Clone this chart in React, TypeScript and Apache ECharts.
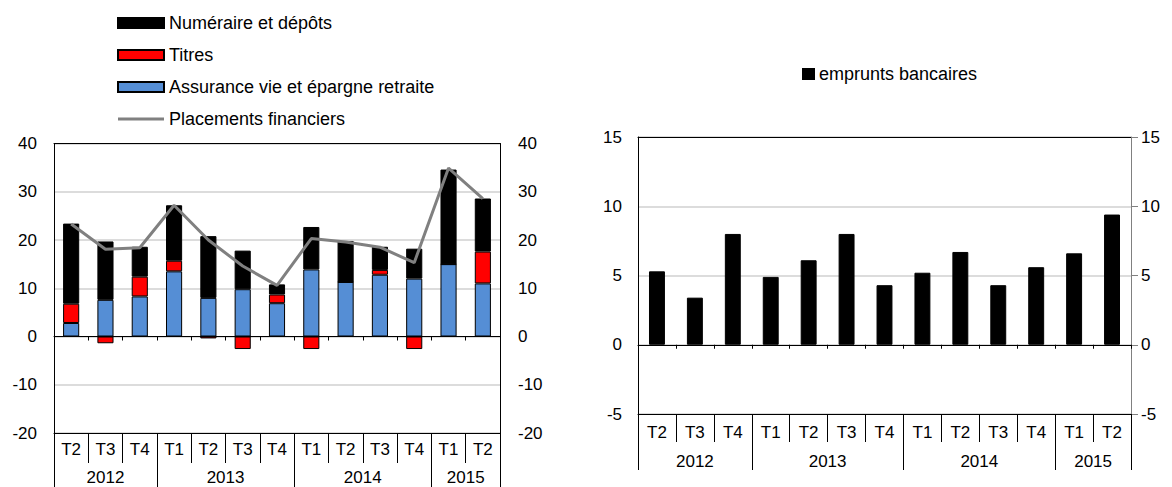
import React, { useEffect, useRef } from 'react';
import * as echarts from 'echarts';

// ---- data ----
const quarters = ['T2', 'T3', 'T4', 'T1', 'T2', 'T3', 'T4', 'T1', 'T2', 'T3', 'T4', 'T1', 'T2'];
const years = ['2012', '2013', '2014', '2015'];
const yearSpans = [3, 4, 4, 2];

const numeraire = [16.6, 12.1, 6.2, 11.5, 12.8, 8.0, 2.1, 8.8, 8.5, 4.8, 6.2, 19.6, 11.0];
const titres = [4.0, -1.4, 4.1, 2.2, -0.4, -2.6, 1.8, -2.6, 0, 1.0, -2.6, 0, 6.6];
const assurance = [2.8, 7.6, 8.3, 13.5, 8.0, 9.8, 6.9, 13.9, 11.3, 12.8, 12.0, 15.0, 11.0];
const placements = [23.3, 18.1, 18.4, 27.2, 20.0, 14.6, 10.6, 20.3, 19.6, 18.5, 15.3, 34.9, 28.6];
const emprunts = [5.3, 3.4, 8.0, 4.9, 6.1, 8.0, 4.3, 5.2, 6.7, 4.3, 5.6, 6.6, 9.4];

const leftScale = { min: -20, max: 40, interval: 10 };
const rightScale = { min: -5, max: 15, interval: 5 };

const FONT = 'Liberation Sans, Arial, sans-serif';
const AXIS_FS = 17;
const LEG_FS = 18;

function buildYearSlots() {
  const slots: string[] = new Array(quarters.length * 2 + 1).fill('');
  const centers = new Set<number>();
  const bounds = new Set<number>([0]);
  let s = 0;
  years.forEach((y, i) => {
    const n = yearSpans[i];
    slots[2 * s + n] = y;
    centers.add(2 * s + n);
    s += n;
    bounds.add(2 * s);
  });
  return { slots, centers, bounds };
}

function xAxesFor(gridIndex: number, qMargin: number, qTick: number, yMargin: number, yTick: number) {
  const { slots, centers, bounds } = buildYearSlots();
  const label = { color: '#000', fontSize: AXIS_FS, fontFamily: FONT };
  return [
    {
      // zero line, data axis
      type: 'category', gridIndex, data: quarters, position: 'bottom',
      axisLine: { show: true, onZero: true, lineStyle: { color: '#000', width: 1 } },
      axisTick: { show: true, interval: 0, length: 4, lineStyle: { color: '#000' } },
      axisLabel: { show: false },
    },
    {
      // quarter labels row
      type: 'category', gridIndex, data: quarters, position: 'bottom',
      axisLine: { show: true, onZero: false, lineStyle: { color: '#000', width: 1 } },
      axisTick: { show: true, interval: 0, length: qTick, lineStyle: { color: '#000' } },
      axisLabel: { ...label, interval: 0, margin: qMargin },
    },
    {
      // year labels row
      type: 'category', gridIndex, data: slots, position: 'bottom', boundaryGap: false,
      axisLine: { show: false, onZero: false },
      axisTick: {
        show: true, length: yTick, lineStyle: { color: '#000' },
        interval: (i: number) => bounds.has(i),
      },
      axisLabel: { ...label, margin: yMargin, interval: (i: number) => centers.has(i) },
    },
    {
      // top border
      type: 'category', gridIndex, data: quarters, position: 'top',
      axisLine: { show: true, onZero: false, lineStyle: { color: '#000', width: 1 } },
      axisTick: { show: false }, axisLabel: { show: false },
    },
  ];
}

export default function App() {
  const ref = useRef<HTMLDivElement>(null);
  useEffect(() => {
    document.body.style.margin = '0';
    if (!ref.current) return;
    const chart = echarts.init(ref.current, undefined, { renderer: 'svg' });
    const label = { color: '#000', fontSize: AXIS_FS, fontFamily: FONT };
    const split = { show: true, lineStyle: { color: '#d0d0d0', width: 1.5 } };
    const option = {
      animation: false,
      textStyle: { fontFamily: FONT },
      legend: [
        {
          orient: 'vertical', left: 117, top: 14, padding: 0, itemWidth: 46, itemHeight: 10, itemGap: 14,
          symbolKeepAspect: true,
          textStyle: { color: '#000', fontSize: LEG_FS, fontFamily: FONT, lineHeight: 18 },
          data: [
            { name: 'Numéraire et dépôts', icon: 'rect' },
            { name: 'Titres', icon: 'rect' },
            { name: 'Assurance vie et épargne retraite', icon: 'rect' },
            { name: 'Placements financiers', icon: 'path://M0,4H46V7H0Z' },
          ],
        },
        {
          left: 802, top: 65, padding: 0, itemWidth: 11, itemHeight: 10,
          textStyle: { color: '#000', fontSize: LEG_FS, fontFamily: FONT, lineHeight: 18 },
          data: [{ name: 'emprunts bancaires', icon: 'rect' }],
        },
      ],
      grid: [
        { left: 54, width: 446, top: 143.5, height: 289.5 },
        { left: 638, width: 493, top: 137, height: 277 },
      ],
      xAxis: [
        ...xAxesFor(0, 8, 30, 36, 60),
        ...xAxesFor(1, 10, 28, 39, 56),
      ],
      yAxis: [
        {
          type: 'value', gridIndex: 0, position: 'left', ...leftScale,
          axisLine: { show: true, lineStyle: { color: '#000' } }, axisTick: { show: false },
          axisLabel: { ...label, margin: 17 }, splitLine: split,
        },
        {
          type: 'value', gridIndex: 0, position: 'right', ...leftScale,
          axisLine: { show: true, lineStyle: { color: '#000' } }, axisTick: { show: false },
          axisLabel: { ...label, margin: 18 }, splitLine: { show: false },
        },
        {
          type: 'value', gridIndex: 1, position: 'left', ...rightScale,
          axisLine: { show: true, lineStyle: { color: '#000' } }, axisTick: { show: false },
          axisLabel: { ...label, margin: 16 }, splitLine: split,
        },
        {
          type: 'value', gridIndex: 1, position: 'right', ...rightScale,
          axisLine: { show: true, lineStyle: { color: '#808080' } },
          axisTick: { show: true, length: 7, lineStyle: { color: '#808080' } },
          axisLabel: { ...label, margin: 10 }, splitLine: { show: false },
        },
      ],
      series: [
        {
          name: 'Assurance vie et épargne retraite', type: 'bar', stack: 'a', xAxisIndex: 0, yAxisIndex: 0,
          data: assurance, barWidth: '47%',
          itemStyle: { color: '#558ed5', borderColor: '#000', borderWidth: 1 },
        },
        {
          name: 'Titres', type: 'bar', stack: 'a', xAxisIndex: 0, yAxisIndex: 0,
          data: titres, barWidth: '47%',
          itemStyle: { color: '#ff0000', borderColor: '#000', borderWidth: 1 },
        },
        {
          name: 'Numéraire et dépôts', type: 'bar', stack: 'a', xAxisIndex: 0, yAxisIndex: 0,
          data: numeraire, barWidth: '47%',
          itemStyle: { color: '#000', borderColor: '#000', borderWidth: 1 },
        },
        {
          name: 'Placements financiers', type: 'line', xAxisIndex: 0, yAxisIndex: 0,
          data: placements, symbol: 'none', z: 5,
          lineStyle: { color: '#808080', width: 3 }, itemStyle: { color: '#808080' },
        },
        {
          name: 'emprunts bancaires', type: 'bar', xAxisIndex: 4, yAxisIndex: 2,
          data: emprunts, barWidth: '42%',
          itemStyle: { color: '#000', borderColor: '#000', borderWidth: 1 },
        },
      ],
    };
    chart.setOption(option as any);
    return () => chart.dispose();
  }, []);
  return <div ref={ref} style={{ width: 1172, height: 487 }} />;
}
